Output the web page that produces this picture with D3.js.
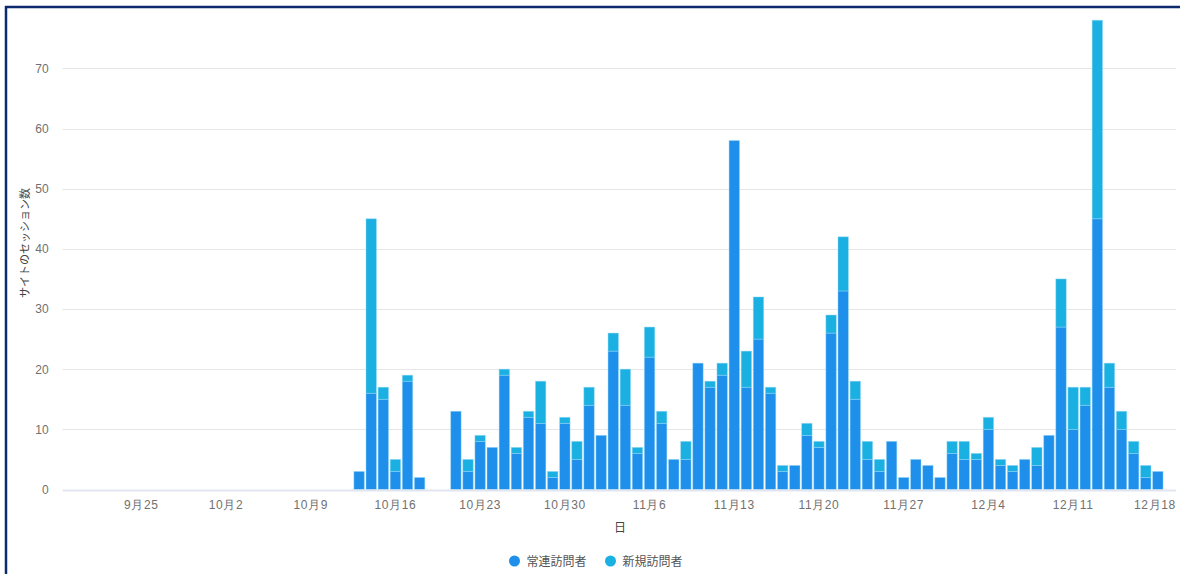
<!DOCTYPE html>
<html>
<head>
<meta charset="utf-8">
<script src="https://cdn.jsdelivr.net/npm/d3@7"></script>
<style>
  body { margin: 0; background: #fff; }
  svg { display: block; font-family: "Noto Sans CJK JP", "Noto Sans", sans-serif; }
</style>
</head>
<body>
<div id="chart"></div>
<script>
// days that have sessions (2 gaps: Oct 19-20)
var days = [
	'10-13','10-14','10-15','10-16','10-17','10-18',
	'10-21','10-22','10-23','10-24','10-25','10-26','10-27','10-28','10-29','10-30','10-31',
	'11-01','11-02','11-03','11-04','11-05','11-06','11-07','11-08','11-09','11-10',
	'11-11','11-12','11-13','11-14','11-15','11-16','11-17','11-18','11-19','11-20',
	'11-21','11-22','11-23','11-24','11-25','11-26','11-27','11-28','11-29','11-30',
	'12-01','12-02','12-03','12-04','12-05','12-06','12-07','12-08','12-09','12-10',
	'12-11','12-12','12-13','12-14','12-15','12-16','12-17','12-18'
];
var regular = [
	3,16,15,3,18,2,
	13,3,8,7,19,6,12,11,2,11,5,
	14,9,23,14,6,22,11,5,5,21,
	17,19,58,17,25,16,3,4,9,7,
	26,33,15,5,3,8,2,5,4,2,
	6,5,5,10,4,3,5,4,9,27,
	10,14,45,17,10,6,2,3
];
var newcomers = [
	0,29,2,2,1,0,
	0,2,1,0,1,1,1,7,1,1,3,
	3,0,3,6,1,5,2,0,3,0,
	1,2,0,6,7,1,1,0,2,1,
	3,9,3,3,2,0,0,0,0,0,
	2,3,1,2,1,1,0,3,0,8,
	7,3,33,4,3,2,2,0
];
var seriesNames = ['常連訪問者', '新規訪問者'];
var colors = ['#1e90eb', '#1ab1e2'];
var tickDays = ['09-25','10-02','10-09','10-16','10-23','10-30','11-06','11-13','11-20','11-27','12-04','12-11','12-18'];
var yTicks = [0,10,20,30,40,50,60,70];

var width = 1180;
var height = 574;
var plotLeft = 62.6, plotRight = 1176, plotTop = 8.2, plotBottom = 489.5;

var svg = d3.select('#chart')
	.append('svg')
	.attr('width', width)
	.attr('height', height);

var parse = function(s) { return new Date(2023, +s.slice(0,2) - 1, +s.slice(3)); };
var key = d3.timeFormat('%m-%d');

// every calendar day from Sep 19 to Dec 19
var allDays = d3.timeDay.range(new Date(2023, 8, 19), new Date(2023, 11, 20)).map(key);

var x = d3.scaleBand()
	.domain(allDays)
	.range([plotLeft, plotRight])
	.paddingInner(0.14)
	.paddingOuter(0.07);

var y = d3.scaleLinear()
	.domain([0, 80])
	.range([plotBottom, plotTop]);

// grid
svg.append('g')
	.selectAll('line')
	.data(yTicks.slice(1))
	.join('line')
	.attr('x1', plotLeft).attr('x2', plotRight)
	.attr('y1', function(d) { return Math.round(y(d)) + 0.5; })
	.attr('y2', function(d) { return Math.round(y(d)) + 0.5; })
	.attr('stroke', '#e6e6e6');

var yAxis = d3.axisLeft(y).tickValues(yTicks).tickSize(0).tickPadding(14);
svg.append('g')
	.attr('transform', 'translate(' + plotLeft + ',0)')
	.call(yAxis)
	.call(function(g) { g.select('.domain').remove(); })
	.selectAll('text')
	.attr('fill', '#707070')
	.attr('font-size', 12);

// stacked bars
var rows = days.map(function(d, i) { return { day: d, r: regular[i], n: newcomers[i] }; });
var stack = d3.stack().keys(['r', 'n'])(rows);

svg.append('g')
	.selectAll('g')
	.data(stack)
	.join('g')
	.attr('fill', function(d, i) { return colors[i]; })
	.selectAll('rect')
	.data(function(d) { return d.filter(function(p) { return p[1] > p[0]; }); })
	.join('rect')
	.attr('x', function(d) { return x(d.data.day); })
	.attr('width', x.bandwidth())
	.attr('y', function(d) { return y(d[1]); })
	.attr('height', function(d) { return y(d[0]) - y(d[1]); })
	.attr('stroke', 'rgba(150,215,245,0.55)')
	.attr('stroke-width', 0.8);

// x axis
svg.append('line')
	.attr('x1', plotLeft).attr('x2', plotRight)
	.attr('y1', plotBottom + 1).attr('y2', plotBottom + 1)
	.attr('stroke', '#e1e5f0')
	.attr('stroke-width', 2);

var fmt = function(s) { var d = parse(s); return (d.getMonth() + 1) + '月' + d.getDate(); };
var xAxis = d3.axisBottom(x).tickValues(tickDays).tickFormat(fmt).tickSize(0).tickPadding(11);
svg.append('g')
	.attr('transform', 'translate(0,' + plotBottom + ')')
	.call(xAxis)
	.call(function(g) { g.select('.domain').remove(); })
	.selectAll('text')
	.attr('fill', '#707070')
	.attr('font-size', 12)
	.attr('letter-spacing', 0.6)
	.attr('dx', function(d, i) { return i === tickDays.length - 1 ? -3 : 0; });

// axis titles
svg.append('text')
	.attr('x', 620).attr('y', 532)
	.attr('text-anchor', 'middle')
	.attr('font-size', 12)
	.attr('fill', '#444')
	.text('日');

svg.append('text')
	.attr('transform', 'translate(29,243) rotate(-90)')
	.attr('text-anchor', 'middle')
	.attr('font-size', 11)
	.attr('fill', '#444')
	.text('サイトのセッション数');

// legend
var legend = svg.append('g')
	.selectAll('g')
	.data(seriesNames)
	.join('g')
	.attr('transform', function(d, i) { return 'translate(' + (514.5 + i * 96) + ',561)'; });
legend.append('circle')
	.attr('r', 5.5)
	.attr('fill', function(d, i) { return colors[i]; });
legend.append('text')
	.attr('x', 12)
	.attr('y', 4.5)
	.attr('font-size', 12)
	.attr('fill', '#555')
	.text(function(d) { return d; });

// frame
svg.append('line')
	.attr('x1', 5).attr('x2', width).attr('y1', 7).attr('y2', 7)
	.attr('stroke', '#0d2a6e').attr('stroke-width', 2.5);
svg.append('line')
	.attr('x1', 6).attr('x2', 6).attr('y1', 6).attr('y2', height)
	.attr('stroke', '#0d2a6e').attr('stroke-width', 2.5);
</script>
</body>
</html>
